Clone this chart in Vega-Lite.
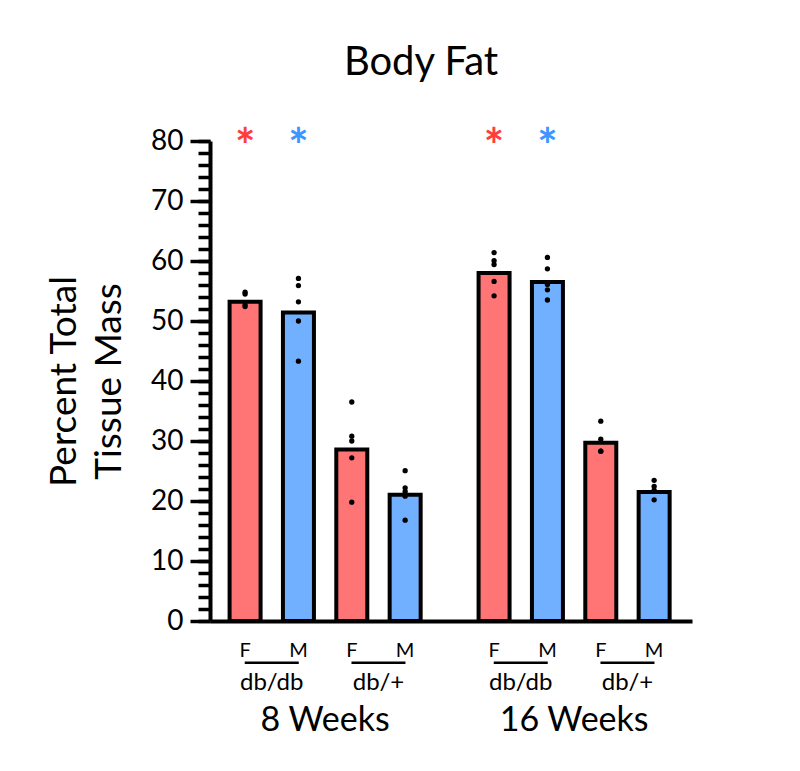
{
  "$schema": "https://vega.github.io/schema/vega-lite/v6.json",
  "width": 482,
  "height": 480,
  "autosize": {"type": "none"},
  "padding": {"left": 210, "top": 141, "right": 108, "bottom": 150},
  "background": "white",
  "config": {"font": "Lato", "view": {"stroke": null}},
  "title": {"text": "Body Fat", "fontSize": 40, "fontWeight": "normal", "color": "black", "dx": -30, "offset": 42, "anchor": "middle"},
  "resolve": {"axis": {"y": "independent"}},
  "datasets": {
    "bars": [
      {"week": "8 Weeks", "genotype": "db/db", "sex": "F", "slot": "dbdb-F", "mean": 53.2},
      {"week": "8 Weeks", "genotype": "db/db", "sex": "M", "slot": "dbdb-M", "mean": 51.4},
      {"week": "8 Weeks", "genotype": "db/+", "sex": "F", "slot": "dbhet-F", "mean": 28.6},
      {"week": "8 Weeks", "genotype": "db/+", "sex": "M", "slot": "dbhet-M", "mean": 21.05},
      {"week": "16 Weeks", "genotype": "db/db", "sex": "F", "slot": "dbdb-F", "mean": 58.0},
      {"week": "16 Weeks", "genotype": "db/db", "sex": "M", "slot": "dbdb-M", "mean": 56.5},
      {"week": "16 Weeks", "genotype": "db/+", "sex": "F", "slot": "dbhet-F", "mean": 29.7},
      {"week": "16 Weeks", "genotype": "db/+", "sex": "M", "slot": "dbhet-M", "mean": 21.5}
    ],
    "points": [
      {"week": "8 Weeks", "slot": "dbdb-F", "value": 54.5},
      {"week": "8 Weeks", "slot": "dbdb-F", "value": 54.8},
      {"week": "8 Weeks", "slot": "dbdb-F", "value": 52.4},
      {"week": "8 Weeks", "slot": "dbdb-F", "value": 52.7},
      {"week": "8 Weeks", "slot": "dbdb-M", "value": 57.1},
      {"week": "8 Weeks", "slot": "dbdb-M", "value": 55.9},
      {"week": "8 Weeks", "slot": "dbdb-M", "value": 53.2},
      {"week": "8 Weeks", "slot": "dbdb-M", "value": 50.0},
      {"week": "8 Weeks", "slot": "dbdb-M", "value": 43.3},
      {"week": "8 Weeks", "slot": "dbhet-F", "value": 36.5},
      {"week": "8 Weeks", "slot": "dbhet-F", "value": 30.0},
      {"week": "8 Weeks", "slot": "dbhet-F", "value": 30.8},
      {"week": "8 Weeks", "slot": "dbhet-F", "value": 27.2},
      {"week": "8 Weeks", "slot": "dbhet-F", "value": 19.8},
      {"week": "8 Weeks", "slot": "dbhet-M", "value": 25.05},
      {"week": "8 Weeks", "slot": "dbhet-M", "value": 22.2},
      {"week": "8 Weeks", "slot": "dbhet-M", "value": 21.6},
      {"week": "8 Weeks", "slot": "dbhet-M", "value": 20.8},
      {"week": "8 Weeks", "slot": "dbhet-M", "value": 16.8},
      {"week": "16 Weeks", "slot": "dbdb-F", "value": 61.4},
      {"week": "16 Weeks", "slot": "dbdb-F", "value": 60.05},
      {"week": "16 Weeks", "slot": "dbdb-F", "value": 59.4},
      {"week": "16 Weeks", "slot": "dbdb-F", "value": 56.6},
      {"week": "16 Weeks", "slot": "dbdb-F", "value": 54.2},
      {"week": "16 Weeks", "slot": "dbdb-M", "value": 60.6},
      {"week": "16 Weeks", "slot": "dbdb-M", "value": 58.7},
      {"week": "16 Weeks", "slot": "dbdb-M", "value": 56.1},
      {"week": "16 Weeks", "slot": "dbdb-M", "value": 55.2},
      {"week": "16 Weeks", "slot": "dbdb-M", "value": 53.5},
      {"week": "16 Weeks", "slot": "dbhet-F", "value": 33.3},
      {"week": "16 Weeks", "slot": "dbhet-F", "value": 30.3},
      {"week": "16 Weeks", "slot": "dbhet-F", "value": 28.3},
      {"week": "16 Weeks", "slot": "dbhet-F", "value": 28.3},
      {"week": "16 Weeks", "slot": "dbhet-M", "value": 23.45},
      {"week": "16 Weeks", "slot": "dbhet-M", "value": 22.45},
      {"week": "16 Weeks", "slot": "dbhet-M", "value": 21.8},
      {"week": "16 Weeks", "slot": "dbhet-M", "value": 20.2}
    ],
    "stars": [
      {"week": "8 Weeks", "slot": "dbdb-F", "sex": "F"},
      {"week": "8 Weeks", "slot": "dbdb-M", "sex": "M"},
      {"week": "16 Weeks", "slot": "dbdb-F", "sex": "F"},
      {"week": "16 Weeks", "slot": "dbdb-M", "sex": "M"}
    ],
    "pairs": [
      {"week": "8 Weeks", "slot": "dbdb", "label": "db/db"},
      {"week": "8 Weeks", "slot": "dbhet", "label": "db/+"},
      {"week": "16 Weeks", "slot": "dbdb", "label": "db/db"},
      {"week": "16 Weeks", "slot": "dbhet", "label": "db/+"}
    ]
  },
  "encoding": {
    "x": {
      "field": "week",
      "type": "nominal",
      "title": null,
      "scale": {"domain": ["8 Weeks", "16 Weeks"], "paddingInner": 0.25, "paddingOuter": 0.0929, "align": 0.47},
      "axis": {
        "domainColor": "black",
        "domainWidth": 4,
        "ticks": false,
        "tickSize": 0,
        "labelAngle": 0,
        "labelFontSize": 34,
        "labelColor": "black",
        "labelBaseline": "alphabetic",
        "labelPadding": 109
      }
    },
    "xOffset": {
      "field": "slot",
      "type": "nominal",
      "scale": {"domain": ["dbdb-F", "dbdb", "dbdb-M", "sep", "dbhet-F", "dbhet", "dbhet-M"], "paddingInner": 0, "paddingOuter": 0}
    }
  },
  "layer": [
    {
      "data": {"name": "bars"},
      "mark": {"type": "bar", "width": 31, "stroke": "black", "strokeWidth": 4},
      "encoding": {
        "y": {
          "field": "mean",
          "type": "quantitative",
          "scale": {"domain": [0, 80], "nice": false, "zero": true},
          "axis": {
            "orient": "left",
            "values": [0, 10, 20, 30, 40, 50, 60, 70, 80],
            "grid": false,
            "domainColor": "black",
            "domainWidth": 4,
            "tickColor": "black",
            "tickWidth": 3.5,
            "tickSize": 20,
            "labelFontSize": 28,
            "labelColor": "black",
            "labelPadding": 7,
            "labelOverlap": false,
            "labelFlush": false,
            "title": ["Percent Total", "Tissue Mass"],
            "titleFontSize": 37,
            "titleFontWeight": "normal",
            "titleLineHeight": 45,
            "titlePadding": 22,
            "titleColor": "black"
          }
        },
        "color": {"field": "sex", "type": "nominal", "scale": {"domain": ["F", "M"], "range": ["#FF7474", "#71AFFF"]}, "legend": null}
      }
    },
    {
      "data": {"name": "points"},
      "mark": {"type": "circle", "size": 28, "color": "black", "opacity": 1},
      "encoding": {
        "y": {
          "field": "value",
          "type": "quantitative",
          "axis": {
            "orient": "left",
            "values": [0, 2, 4, 6, 8, 10, 12, 14, 16, 18, 20, 22, 24, 26, 28, 30, 32, 34, 36, 38, 40, 42, 44, 46, 48, 50, 52, 54, 56, 58, 60, 62, 64, 66, 68, 70, 72, 74, 76, 78, 80],
            "grid": false,
            "domain": false,
            "labels": false,
            "title": null,
            "tickColor": "black",
            "tickWidth": 3.5,
            "tickSize": 12
          }
        }
      }
    },
    {
      "data": {"name": "stars"},
      "mark": {"type": "text", "text": "*", "fontSize": 48, "fontWeight": "bold", "baseline": "middle", "align": "center", "dy": 8},
      "encoding": {
        "y": {"datum": 80, "type": "quantitative", "axis": null},
        "color": {"condition": {"test": "datum.sex === 'F'", "value": "#FF3D3D"}, "value": "#3D96FF"}
      }
    },
    {
      "data": {"name": "bars"},
      "mark": {"type": "text", "fontSize": 20, "baseline": "alphabetic", "align": "center", "dy": 36, "color": "black"},
      "encoding": {
        "y": {"datum": 0, "type": "quantitative", "axis": null},
        "text": {"field": "sex"}
      }
    },
    {
      "data": {"name": "pairs"},
      "mark": {"type": "tick", "orient": "horizontal", "size": 54, "thickness": 2.5, "yOffset": 41.7, "color": "black", "opacity": 1},
      "encoding": {
        "y": {"datum": 0, "type": "quantitative", "axis": null}
      }
    },
    {
      "data": {"name": "pairs"},
      "mark": {"type": "text", "fontSize": 24, "baseline": "alphabetic", "align": "center", "dy": 69, "color": "black"},
      "encoding": {
        "y": {"datum": 0, "type": "quantitative", "axis": null},
        "text": {"field": "label"}
      }
    }
  ]
}
